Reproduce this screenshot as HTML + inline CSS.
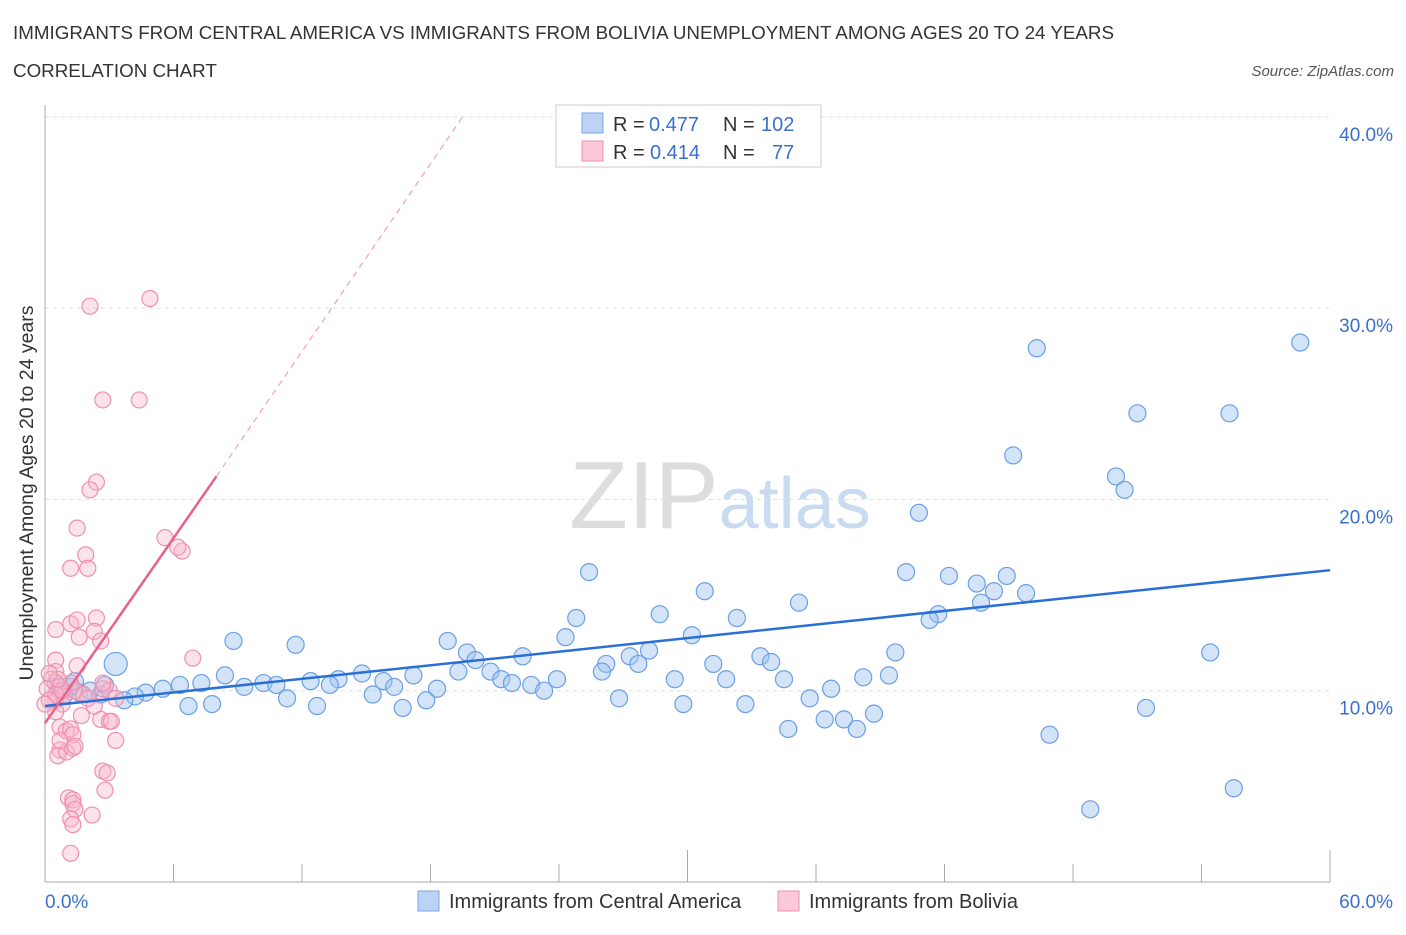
<!DOCTYPE html>
<html><head><meta charset="utf-8"><style>
body{margin:0;background:#fff;font-family:"Liberation Sans",sans-serif;}
svg text{font-family:"Liberation Sans",sans-serif;}
</style></head><body>
<svg id="chart" width="1406" height="930" xmlns="http://www.w3.org/2000/svg">
<text x="13" y="39" font-size="18.8" fill="#333">IMMIGRANTS FROM CENTRAL AMERICA VS IMMIGRANTS FROM BOLIVIA UNEMPLOYMENT AMONG AGES 20 TO 24 YEARS</text>
<text x="13" y="77" font-size="18.8" fill="#333">CORRELATION CHART</text>
<text x="1394" y="76" font-size="15" fill="#555" text-anchor="end" font-style="italic">Source: ZipAtlas.com</text>
<text x="720" y="528" font-size="96" fill="#ddd" text-anchor="middle" font-family="Liberation Serif"><tspan fill="#ddd">ZIP</tspan><tspan fill="#c8dbf0" font-family="Liberation Sans" font-size="72">atlas</tspan></text>
<g id="grid"></g>
<g id="axes"></g>
<g id="pts"></g>
<g id="lines"></g>
<text transform="translate(33,493) rotate(-90)" font-size="19.5" fill="#333" text-anchor="middle">Unemployment Among Ages 20 to 24 years</text>
<g>
<rect x="556" y="105" width="265" height="62" fill="#fff" stroke="#ccc"/>
<rect x="582" y="113" width="21" height="20" fill="#bcd3f5" stroke="#7aa7e8"/>
<rect x="582" y="141" width="21" height="20" fill="#fbc9d8" stroke="#ee8fae"/>
<text x="613" y="131" font-size="20" fill="#333">R =</text>
<text x="649" y="131" font-size="20" fill="#3a6fd0">0.477</text>
<text x="723" y="131" font-size="20" fill="#333">N =</text>
<text x="761" y="131" font-size="20" fill="#3a6fd0">102</text>
<text x="613" y="159" font-size="20" fill="#333">R =</text>
<text x="650" y="159" font-size="20" fill="#3a6fd0">0.414</text>
<text x="723" y="159" font-size="20" fill="#333">N =</text>
<text x="772" y="159" font-size="20" fill="#3a6fd0">77</text>
</g>
<g>
<rect x="418" y="891" width="21" height="20" fill="#bcd3f5" stroke="#7aa7e8"/>
<text x="449" y="908" font-size="20" fill="#333">Immigrants from Central America</text>
<rect x="778" y="891" width="21" height="20" fill="#fbc9d8" stroke="#ee8fae"/>
<text x="809" y="908" font-size="20" fill="#333">Immigrants from Bolivia</text>
</g>
</svg>
<script>
const yTicks=[10,20,30,40];
const xTickLabels=["0.0%","60.0%"];
const blueX=[46.3,58.6,51.0,55.3,45.2,50.0,50.4,40.8,25.4,40.2,42.2,44.9,43.5,44.3,45.8,30.8,24.8,35.2,28.7,32.3,41.7,41.3,43.7,8.8,11.7,18.8,24.3,30.2,19.7,28.2,20.1,22.3,26.2,27.3,27.7,33.4,33.9,39.7,54.4,3.3,14.8,19.3,26.0,31.2,8.4,12.4,13.7,15.8,17.2,20.8,21.3,21.8,22.7,23.9,29.4,31.8,34.5,38.2,39.4,7.3,6.3,5.5,4.7,4.2,3.7,2.6,9.3,10.2,10.8,13.3,16.3,18.3,23.3,15.3,26.8,35.7,36.7,11.3,12.7,16.7,17.8,6.7,7.8,29.8,32.7,51.4,36.4,37.3,37.9,38.7,34.7,46.9,48.8,55.5,0.7,1.2,1.6,2.1,0.5,0.9,2.8,1.4];
const blueY=[27.9,28.2,24.5,24.5,22.3,21.2,20.5,19.3,16.2,16.2,16.0,16.0,15.6,15.2,15.1,15.2,13.8,14.6,14.0,13.8,14.0,13.7,14.6,12.6,12.4,12.6,12.8,12.9,12.0,12.1,11.6,11.8,11.4,11.8,11.4,11.8,11.5,12.0,12.0,11.4,10.9,11.0,11.0,11.4,10.8,10.5,10.6,10.5,10.8,11.0,10.6,10.4,10.3,10.6,10.6,10.6,10.6,10.7,10.8,10.4,10.3,10.1,9.9,9.7,9.5,9.8,10.2,10.4,10.3,10.3,10.2,10.1,10.0,9.8,9.6,9.6,10.1,9.6,9.2,9.1,9.5,9.2,9.3,9.3,9.3,9.1,8.5,8.5,8.0,8.8,8.0,7.7,3.8,4.9,10.0,10.2,9.9,10.0,10.4,9.8,10.3,10.5];
const pinkX=[2.1,4.9,2.7,4.4,2.4,2.1,1.5,5.6,6.4,6.2,1.9,2.0,1.2,0.5,1.2,1.5,2.4,1.6,2.3,2.6,0.5,1.5,6.9,0.5,0.3,0.1,0.7,1.2,0.9,0.5,0.8,0.5,1.4,1.8,2.7,3.0,2.7,2.6,3.0,1.7,0.7,1.0,1.2,1.3,0.7,0.6,1.0,1.3,1.4,0.7,2.7,2.9,2.8,1.1,1.3,1.3,1.4,1.2,1.3,2.2,1.2,3.3,3.1,0.5,0.8,0.2,0.0,0.6,0.2,3.3,2.3,2.0];
const pinkY=[30.1,30.5,25.2,25.2,20.9,20.5,18.5,18.0,17.3,17.5,17.1,16.4,16.4,13.2,13.5,13.7,13.8,12.8,13.1,12.6,11.6,11.3,11.7,11.0,10.6,10.1,10.2,10.4,9.7,9.5,9.3,8.9,10.0,9.8,10.1,10.0,10.4,8.5,8.4,8.7,8.1,7.9,8.0,7.7,6.9,6.6,6.8,7.0,7.1,7.4,5.8,5.7,4.8,4.4,4.3,4.1,3.8,3.3,3.0,3.5,1.5,7.4,8.4,9.8,10.0,9.5,9.3,10.6,10.9,9.6,9.2,9.6];
const blueLine=[[0,9.2],[60,16.3]];
const pinkLine=[[0,8.3],[8.0,21.2]];
const pinkDash=[[8.0,21.2],[19.5,40.0]];
const X=v=>45+v*21.42, Y=v=>882-v*19.13;
const NS="http://www.w3.org/2000/svg";
function mk(tag,a,parent){const e=document.createElementNS(NS,tag);for(const k in a)e.setAttribute(k,a[k]);document.getElementById(parent).appendChild(e);return e;}
yTicks.forEach(t=>{
 const l=mk('line',{x1:45,x2:1330,y1:Y(t),y2:Y(t),stroke:'#ddd','stroke-dasharray':'4,4'},'grid');
 
 
 const tx=mk('text',{x:1393,y:Y(t)+24,'font-size':19,fill:'#3a6fd0','text-anchor':'end'},'axes');
 tx.textContent=t.toFixed(1)+'%';
 
 
});
const ax=mk('line',{x1:45,x2:1330,y1:882,y2:882,stroke:'#aaa'},'axes');


const ay=mk('line',{x1:45,x2:45,y1:105,y2:882,stroke:'#aaa'},'axes');


for(let i=0;i<=10;i++){const x=45+i*128.5;const tk=mk('line',{x1:x,x2:x,y1:882,y2:i%5==0?850:864,stroke:'#aaa'},'axes');
 
 }
[[0,'start',45],[1,'end',1393]].forEach(([i,anc,x])=>{const t=mk('text',{x:x,y:908,'font-size':19,fill:'#3a6fd0','text-anchor':anc},'axes');t.textContent=xTickLabels[i];
 
 });
blueX.forEach((x,i)=>{const c=mk('circle',{cx:X(x),cy:Y(blueY[i]),r:(i==39?11.5:8.5),fill:'rgba(160,195,240,0.45)',stroke:'#6a9fe6','stroke-width':1.2},'pts');
 
 });
pinkX.forEach((x,i)=>{const c=mk('circle',{cx:X(x),cy:Y(pinkY[i]),r:8,fill:'rgba(248,185,205,0.4)',stroke:'#f08eae','stroke-width':1.2},'pts');
 
 });
const bl=mk('line',{x1:X(blueLine[0][0]),y1:Y(blueLine[0][1]),x2:X(blueLine[1][0]),y2:Y(blueLine[1][1]),stroke:'#2a6fd6','stroke-width':2.5},'lines');


const pl=mk('line',{x1:X(pinkLine[0][0]),y1:Y(pinkLine[0][1]),x2:X(pinkLine[1][0]),y2:Y(pinkLine[1][1]),stroke:'#e8608c','stroke-width':2.5},'lines');


const pd=mk('line',{x1:X(pinkDash[0][0]),y1:Y(pinkDash[0][1]),x2:X(pinkDash[1][0]),y2:Y(pinkDash[1][1]),stroke:'#f0a0b8','stroke-width':1.2,'stroke-dasharray':'6,5'},'lines');


</script>
</body></html>
